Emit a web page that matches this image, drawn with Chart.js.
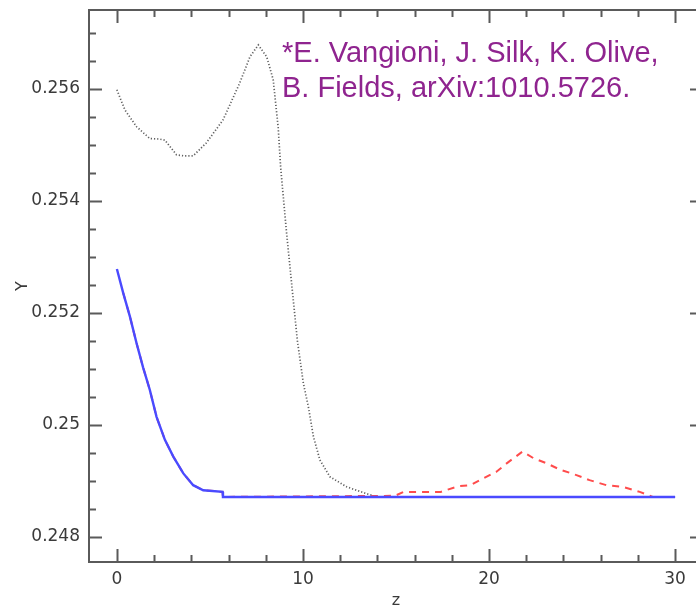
<!DOCTYPE html>
<html><head><meta charset="utf-8">
<script src="https://cdn.jsdelivr.net/npm/chart.js@4/dist/chart.umd.min.js"></script>
<style>
html,body{margin:0;padding:0;background:#fff;overflow:hidden;width:696px;height:610px}
#wrap{width:712px;height:610px}
</style></head>
<body><div id="wrap"><canvas id="c" width="712" height="610"></canvas></div>
<script>
// ---- tick values and labels ----
const xMajorTicks = [0, 10, 20, 30];
const xTickLabels = ["0", "10", "20", "30"];
const xMinorTicks = [2, 4, 6, 8, 12, 14, 16, 18, 22, 24, 26, 28];
const yMajorTicks = [0.248, 0.25, 0.252, 0.254, 0.256];
const yTickLabels = ["0.248", "0.25", "0.252", "0.254", "0.256"];
const yMinorTicks = [0.2485, 0.249, 0.2495, 0.2505, 0.251, 0.2515, 0.2525, 0.253, 0.2535, 0.2545, 0.255, 0.2555, 0.2565, 0.257];
const xTitle = "z";
const yTitle = "Y";
const annotationLines = ["*E. Vangioni, J. Silk, K. Olive,", "B. Fields, arXiv:1010.5726."];

// ---- series (z, Y) ----
const blackZ = [0, 0.43, 1.06, 1.77, 2.3, 2.58, 3.2, 3.6, 4.1, 4.8, 5.7, 6.6, 7.15, 7.6, 8.05, 8.4, 8.67, 8.8, 8.88, 9.12, 9.39, 9.7, 10.02, 10.29, 10.56, 10.91, 11.45, 12.35, 13.4, 14.0, 30];
const blackY = [0.25598, 0.25562, 0.25532, 0.25511, 0.2551, 0.25508, 0.25482, 0.2548, 0.2548, 0.25503, 0.25544, 0.2561, 0.25657, 0.25678, 0.25657, 0.25616, 0.2553, 0.2546, 0.2543, 0.25342, 0.25252, 0.2515, 0.25074, 0.25032, 0.24979, 0.24937, 0.24907, 0.24889, 0.24877, 0.24871, 0.24871];

const blueZ = [0, 0.34, 0.7, 1.06, 1.41, 1.77, 2.13, 2.58, 3.03, 3.57, 4.1, 4.64, 5.68, 5.7, 30];
const blueY = [0.25278, 0.25235, 0.25193, 0.25145, 0.25102, 0.25062, 0.25014, 0.24973, 0.24943, 0.24913, 0.24892, 0.24883, 0.2488, 0.24871, 0.24871];

const redZ = [0.34, 0.7, 1.06, 1.41, 1.77, 2.13, 2.58, 3.03, 3.57, 4.1, 4.64, 5.68, 5.7, 14.95, 15.4, 17.4, 18.35, 19.0, 19.5, 20.4, 20.95, 21.8, 22.4, 23.1, 23.8, 24.7, 25.4, 26.3, 27.2, 28.1, 28.8];
const redY = [0.25235, 0.25193, 0.25145, 0.25102, 0.25062, 0.25014, 0.24973, 0.24943, 0.24913, 0.24892, 0.24883, 0.2488, 0.24871, 0.24873, 0.2488, 0.2488, 0.2489, 0.24892, 0.24901, 0.24916, 0.24931, 0.24952, 0.2494, 0.24931, 0.2492, 0.2491, 0.24901, 0.24892, 0.24889, 0.2488, 0.24871];

const toPts = (xs, ys) => xs.map((x, i) => ({x: x, y: ys[i]}));

const axisColor = '#5a5a5a';

const framePlugin = {
  id: 'frame',
  afterDatasetsDraw(chart) {
    const {ctx, chartArea: a, scales: {x, y}} = chart;
    ctx.save();
    ctx.strokeStyle = axisColor;
    ctx.lineWidth = 2;
    ctx.strokeRect(a.left, a.top, a.right - a.left, a.bottom - a.top);
    const major = 13, minor = 7;
    ctx.beginPath();
    const xt = (v, len) => {
      const p = Math.round(x.getPixelForValue(v)) + 0.5;
      ctx.moveTo(p, a.bottom); ctx.lineTo(p, a.bottom - len);
      ctx.moveTo(p, a.top); ctx.lineTo(p, a.top + len);
    };
    const yt = (v, len) => {
      const p = Math.round(y.getPixelForValue(v)) + 0.5;
      ctx.moveTo(a.left, p); ctx.lineTo(a.left + len, p);
      ctx.moveTo(a.right, p); ctx.lineTo(a.right - len, p);
    };
    xMajorTicks.forEach(v => xt(v, major));
    xMinorTicks.forEach(v => xt(v, minor));
    yMajorTicks.forEach(v => yt(v, major));
    yMinorTicks.forEach(v => yt(v, minor));
    ctx.stroke();
    ctx.restore();
  }
};

const notePlugin = {
  id: 'note',
  afterDraw(chart) {
    const ctx = chart.ctx;
    ctx.save();
    ctx.fillStyle = '#8f248f';
    ctx.font = '29px "Liberation Sans", Arial, sans-serif';
    ctx.textAlign = 'left';
    ctx.textBaseline = 'alphabetic';
    ctx.fillText(annotationLines[0], 282, 62);
    ctx.fillText(annotationLines[1], 282, 97);
    ctx.restore();
  }
};

new Chart(document.getElementById('c'), {
  type: 'line',
  data: {
    datasets: [
      {data: toPts(blueZ, blueY), borderColor: '#4a4aff', borderWidth: 2.4, order: 1},
      {data: toPts(redZ, redY), borderColor: '#ff4c4c', borderWidth: 2, borderDash: [7, 6], order: 2},
      {data: toPts(blackZ, blackY), borderColor: '#606060', borderWidth: 1.7, borderDash: [1.2, 2], order: 3}
    ]
  },
  options: {
    responsive: false,
    animation: false,
    devicePixelRatio: 1,
    layout: {padding: {top: 10, right: 9, left: 0, bottom: 0}},
    elements: {point: {radius: 0}, line: {tension: 0, fill: false}},
    plugins: {legend: {display: false}, tooltip: {enabled: false}},
    scales: {
      x: {
        type: 'linear', min: -1.5, max: 31.5,
        afterBuildTicks: s => { s.ticks = xMajorTicks.map(v => ({value: v})); },
        ticks: {callback: (v, i) => xTickLabels[i], font: {family: 'DejaVu Sans', size: 17}, color: '#3a3a3a', padding: 7, maxRotation: 0, autoSkip: false},
        grid: {display: false, drawTicks: false},
        border: {display: false},
        title: {display: true, text: xTitle, font: {family: 'DejaVu Sans', size: 16}, color: '#3a3a3a', padding: 0},
        afterFit: s => { s.height = 48; s.paddingLeft = 0; s.paddingRight = 0; }
      },
      y: {
        type: 'linear', min: 0.247548, max: 0.257405,
        afterBuildTicks: s => { s.ticks = yMajorTicks.map(v => ({value: v})); },
        ticks: {callback: (v, i) => yTickLabels[i], font: {family: 'DejaVu Sans', size: 17}, color: '#3a3a3a', padding: 9, autoSkip: false},
        grid: {display: false, drawTicks: false},
        border: {display: false},
        title: {display: true, text: yTitle, font: {family: 'DejaVu Sans', size: 16}, color: '#3a3a3a', padding: {top: 13, bottom: 0}},
        afterFit: s => { s.width = 89; s.paddingTop = 0; s.paddingBottom = 0; }
      }
    }
  },
  plugins: [framePlugin, notePlugin]
});
</script>
</body></html>
